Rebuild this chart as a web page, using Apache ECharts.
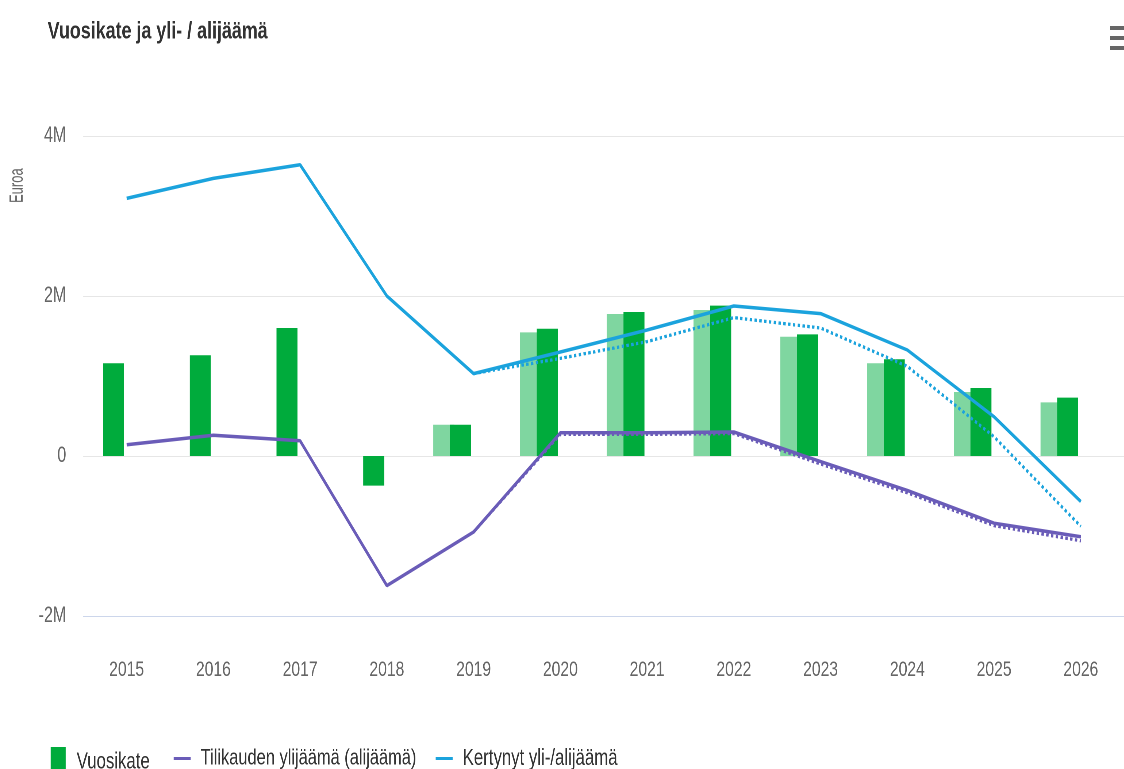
<!DOCTYPE html>
<html>
<head>
<meta charset="utf-8">
<script src="https://cdn.jsdelivr.net/npm/echarts@6/dist/echarts.min.js"></script>
<style>
html,body{margin:0;padding:0;background:#fff;overflow:hidden;}
#wrap{width:1124px;height:769px;overflow:hidden;position:relative;}
#c{width:1540px;height:769px;transform:scale(0.73,1);transform-origin:0 0;position:absolute;left:0;top:0;}
</style>
</head>
<body>
<div id="wrap"><div id="c"></div></div>
<script>
// ---- data ----
const years = ['2015','2016','2017','2018','2019','2020','2021','2022','2023','2024','2025','2026'];
const vuosikate = [1.16, 1.26, 1.60, -0.37, 0.39, 1.59, 1.80, 1.88, 1.52, 1.21, 0.85, 0.73];
const vuosikateTA = [null, null, null, null, 0.39, 1.545, 1.775, 1.825, 1.49, 1.16, 0.80, 0.67];
const tilikauden = [0.14, 0.26, 0.19, -1.62, -0.95, 0.29, 0.29, 0.30, -0.07, -0.43, -0.84, -1.01];
const tilikaudenTA = [null, null, null, null, -0.95, 0.27, 0.27, 0.28, -0.10, -0.46, -0.87, -1.06];
const kertynyt = [3.22, 3.47, 3.64, 2.00, 1.03, 1.30, 1.575, 1.875, 1.78, 1.325, 0.49, -0.57];
const kertynytTA = [null, null, null, null, 1.03, 1.22, 1.43, 1.73, 1.60, 1.12, 0.24, -0.88];
const yTicks = [-2, 0, 2, 4];

const S = 0.73; // horizontal squeeze of the whole drawing
const M = v => v == null ? null : v * 1e6;
const FONT = '"Liberation Sans", Arial, sans-serif';
const X = px => px / S;

const chart = echarts.init(document.getElementById('c'), null, {renderer: 'canvas', devicePixelRatio: 2});
chart.setOption({
  animation: false,
  backgroundColor: '#ffffff',
  title: {
    text: 'Vuosikate ja yli- / alijäämä',
    left: X(44), top: 14,
    textStyle: {fontFamily: FONT, fontSize: 24.5, fontWeight: 'bold', color: '#333333'}
  },
  graphic: [
    {type: 'rect', shape: {x: X(1110), y: 26, width: X(20), height: 4}, style: {fill: '#666666'}},
    {type: 'rect', shape: {x: X(1110), y: 36, width: X(20), height: 4}, style: {fill: '#666666'}},
    {type: 'rect', shape: {x: X(1110), y: 46, width: X(20), height: 4}, style: {fill: '#666666'}},
    {type: 'text', x: X(8), y: 203, rotation: Math.PI / 2, scaleY: 1.45 / S,
     style: {text: 'Euroa', fontFamily: FONT, fontSize: 13, fill: '#666666'}}
  ],
  legend: [
    {
      data: [{name: 'Vuosikate', icon: 'rect'}],
      left: X(47), top: 742, itemWidth: X(15), itemHeight: 30,
      textStyle: {fontFamily: FONT, fontSize: 23, color: '#333333', padding: [0, 0, 0, X(11) - 5]}
    },
    {
      data: [{name: 'Tilikauden ylijäämä (alijäämä)', icon: 'rect'}],
      left: X(170), top: 742, itemWidth: X(17), itemHeight: 3,
      textStyle: {fontFamily: FONT, fontSize: 22.5, color: '#333333', padding: [0, 0, 0, X(10) - 5]}
    },
    {
      data: [{name: 'Kertynyt yli-/alijäämä', icon: 'rect'}],
      left: X(432), top: 742, itemWidth: X(17), itemHeight: 3,
      textStyle: {fontFamily: FONT, fontSize: 23, color: '#333333', padding: [0, 0, 0, X(10) - 5]}
    }
  ],
  grid: {left: X(83.25), right: 1540 - X(1133.25), top: 136, bottom: 153},
  xAxis: [
    {
      type: 'category', data: years,
      axisLine: {show: true, onZero: false, lineStyle: {color: '#ccd6eb', width: 1}},
      axisTick: {show: false},
      axisLabel: {margin: 43, fontFamily: FONT, fontSize: 21.5, color: '#666666'}
    },
    {
      type: 'category', data: years, show: false, position: 'bottom'
    }
  ],
  yAxis: {
    type: 'value', min: -2e6, max: 4e6, interval: 2e6,
    axisLine: {show: false}, axisTick: {show: false},
    splitLine: {lineStyle: {color: '#e6e6e6', width: 1}},
    axisLabel: {
      margin: X(17), fontFamily: FONT, fontSize: 22, color: '#666666',
      formatter: v => v === 0 ? '0' : (v / 1e6) + 'M'
    }
  },
  series: [
    {
      name: 'Vuosikate (TA)', type: 'bar', xAxisIndex: 1, barWidth: X(21), barGap: '184%',
      data: vuosikateTA.map(M), itemStyle: {color: '#7fd6a0'}, z: 1
    },
    {
      name: 'tyhjä2', type: 'bar', xAxisIndex: 1, barWidth: X(21), barGap: '184%',
      data: years.map(() => null)
    },
    {
      name: 'Vuosikate', type: 'bar', xAxisIndex: 0, barWidth: X(21), barGap: '25%',
      data: vuosikate.map(M), itemStyle: {color: '#00ab3c'}, z: 2
    },
    {
      name: 'tyhjä', type: 'bar', xAxisIndex: 0, barWidth: X(21), barGap: '25%',
      data: years.map(() => null)
    },
    {
      name: 'Kertynyt (TA)', type: 'line', data: kertynytTA.map(M),
      symbol: 'none', lineStyle: {color: '#1ba3dd', width: 3.3, type: 'dotted'},
      itemStyle: {color: '#1ba3dd'}, z: 3
    },
    {
      name: 'Kertynyt yli-/alijäämä', type: 'line', data: kertynyt.map(M),
      symbol: 'none', lineStyle: {color: '#1ba3dd', width: 3.5},
      itemStyle: {color: '#1ba3dd'}, z: 4
    },
    {
      name: 'Tilikauden (TA)', type: 'line', data: tilikaudenTA.map(M),
      symbol: 'none', lineStyle: {color: '#6a5cb8', width: 3.3, type: 'dotted'},
      itemStyle: {color: '#6a5cb8'}, z: 3
    },
    {
      name: 'Tilikauden ylijäämä (alijäämä)', type: 'line', data: tilikauden.map(M),
      symbol: 'none', lineStyle: {color: '#6a5cb8', width: 3.5},
      itemStyle: {color: '#6a5cb8'}, z: 4
    }
  ]
});
</script>
</body>
</html>
